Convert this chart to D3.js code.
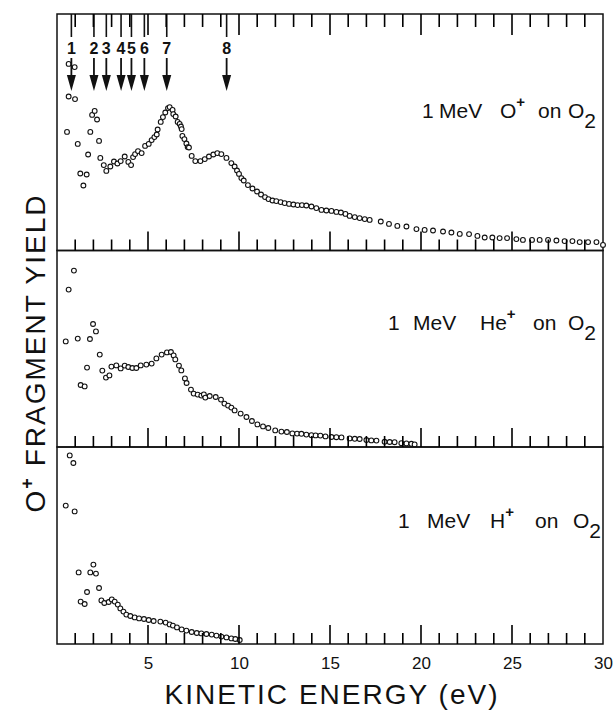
<!DOCTYPE html>
<html>
<head>
<meta charset="utf-8">
<script src="https://cdn.jsdelivr.net/npm/d3@7"></script>
<style>
body{margin:0;background:#fff}
text{font-family:"Liberation Sans",Arial,sans-serif;fill:#111}
</style>
</head>
<body>
<div id="chart"></div>
<script>
// 1 MeV O+ on O2
const oxE=[0.55,0.64,0.64,0.97,0.99,1.14,1.28,1.45,1.63,1.71,1.83,1.93,2.07,2.20,2.31,2.38,2.57,2.71,2.93,3.13,3.32,3.50,3.72,3.92,4.07,4.18,4.29,4.45,4.65,4.84,5.04,5.20,5.35,5.48,5.53,5.70,5.82,5.95,6.10,6.19,6.35,6.39,6.52,6.63,6.74,6.81,6.85,6.89,7.00,7.11,7.18,7.25,7.40,7.60,7.88,8.12,8.35,8.59,8.81,9.03,9.31,9.58,9.76,9.89,10.0,10.13,10.26,10.49,10.74,10.99,11.21,11.43,11.62,11.84,12.05,12.29,12.51,12.75,12.99,13.22,13.46,13.70,13.98,14.25,14.53,14.80,15.08,15.35,15.60,15.85,16.08,16.36,16.63,16.91,17.18,17.79,18.24,18.70,19.20,19.75,20.20,20.66,21.21,21.67,22.13,22.64,23.10,23.50,23.92,24.32,24.73,25.24,25.60,26.10,26.52,26.98,27.44,27.89,28.32,28.72,29.18,29.64,30.0]
const oxY=[59.3,93.3,77,91.7,75.7,53.3,38.5,32.5,38,48,59.3,67.8,69.8,65.5,54.8,46.3,42.7,39.8,42,44.5,43.5,44.7,47,44.3,42.7,46.7,48.2,49.7,48.7,52.3,53.3,55.2,56.7,58,60.5,64.3,66.7,69,71.2,71.7,70.3,68.2,67,64.3,63.3,62,60.7,57.3,55.7,53.5,51.7,51.5,47.3,44.7,44.7,45.7,47,48,48.7,48.2,46.3,43.7,42,40,38.3,36.2,35,32.7,31,29.5,28,26.7,25.7,25,24.7,24.2,23.7,23.3,23,22.7,22.7,22.5,22,21.2,20.3,20,19.8,19.3,19,18.3,17.3,16.7,16.2,15.7,15.3,14.5,13.3,12.3,12,10.7,10.3,10,9.5,9,8.3,8.2,7.3,6.5,6.5,6.2,6.2,5.7,5.3,5.3,5.3,5.3,5,4.7,4.7,4.2,4.2,4.2,2.8]

// 1 MeV He+ on O2
const heE=[0.48,0.64,0.93,1.14,1.30,1.52,1.65,1.81,1.98,2.14,2.35,2.49,2.69,2.88,2.99,3.26,3.50,3.72,3.92,4.14,4.36,4.60,4.91,5.20,5.46,5.75,6.04,6.26,6.41,6.50,6.70,6.83,7.03,7.12,7.36,7.51,7.73,7.93,8.07,8.15,8.39,8.72,9.01,9.20,9.40,9.58,9.76,10.09,10.41,10.71,11.01,11.32,11.61,11.99,12.33,12.63,12.93,13.19,13.43,13.70,13.98,14.21,14.47,14.75,15.08,15.35,15.63,16.08,16.36,16.63,17.0,17.27,17.55,18.0,18.28,18.55,18.92,19.2,19.47,19.65]
const heY=[52.8,78.7,88.2,54.2,31,30.3,39.7,54,61.5,57.8,46.2,38.2,34.7,35.8,40.2,40.8,39.3,40.7,40,39.5,39.5,40.8,41.2,41.7,44.3,46.2,47.3,47.5,45.8,43.8,40.7,38.3,34.3,32,28.7,26.7,26.2,25.7,26.3,24.7,25.5,25,23.7,21.7,20.7,19.7,18.3,16.7,15,13,11.3,10.3,9.5,8.3,7.7,7.5,6.8,6.7,6.6,6.2,5.9,5.8,5.7,5.3,5.0,4.9,4.8,4.3,4.1,4.0,3.5,3.3,3.2,2.6,2.5,2.4,1.9,1.8,1.6,1.3]

// 1 MeV H+ on O2
const hE=[0.48,0.70,0.90,0.97,1.19,1.30,1.52,1.65,1.83,2.00,2.14,2.31,2.44,2.60,2.84,3.01,3.17,3.34,3.48,3.65,3.81,4.03,4.27,4.51,4.78,5.04,5.31,5.68,5.97,6.19,6.37,6.59,6.85,7.11,7.40,7.68,7.93,8.21,8.50,8.76,9.03,9.31,9.58,9.80,10.04]
const hY=[69.2,94.3,90.5,66.3,35.8,21.2,20,26,35.8,39.7,35.2,28,21.8,20.5,21,22.3,21.2,19.7,17.8,16.2,14.7,14,13.3,12.8,12.5,12,11.5,11.2,10.7,9.8,9.2,8.3,7.3,6.7,6,5.5,5.3,5,4.7,4.2,3.7,3.3,2.8,2.5,2]

// peak markers
const arrowE=[0.79,2.03,2.71,3.52,4.09,4.80,6.03,9.32]
const arrowLabels=["1","2","3","4","5","6","7","8"]

const tickValues=d3.range(1,30)
const tickLabels=[5,10,15,20,25,30]

const width=615, height=710
const left=57, right=603

const svg=d3.select("#chart").append("svg")
  .attr("width",width).attr("height",height)

const x=d3.scaleLinear().domain([0,30]).range([left,right])

const panels=[
  {top:14, bottom:250.5, e:oxE, v:oxY,
   words:[["1",422],["MeV",439],["O",500],["on",538],["O",568]], base:118},
  {top:250.5, bottom:447, e:heE, v:heY,
   words:[["1",388],["MeV",413],["He",480],["on",533],["O",568]], base:330},
  {top:447, bottom:644, e:hE, v:hY,
   words:[["1",398],["MeV",427],["H",490],["on",535],["O",573]], base:528}
]

panels.forEach(p=>{
  const y=d3.scaleLinear().domain([0,100]).range([p.bottom,p.bottom-200])

  // frame
  svg.append("rect")
    .attr("x",left).attr("y",p.top)
    .attr("width",right-left).attr("height",p.bottom-p.top)
    .attr("fill","none").attr("stroke","#111").attr("stroke-width",1.5)

  // points
  svg.append("g").selectAll("circle")
    .data(p.e.map((d,j)=>({e:d,v:p.v[j]})))
    .join("circle")
    .attr("cx",d=>x(d.e))
    .attr("cy",d=>y(d.v))
    .attr("r",2.4)
    .attr("fill","#fff")
    .attr("stroke","#111")
    .attr("stroke-width",1.1)

  // panel label
  const t=svg.append("text").attr("y",p.base).style("font-size","21px")
  p.words.forEach((w,k)=>{
    t.append("tspan").attr("x",w[1]).attr("y",p.base).text(w[0])
    if(k==2) t.append("tspan").attr("dy",-11).style("font-size","15px").style("font-weight","bold").text("+")
    if(k==4) t.append("tspan").attr("y",p.base+10).text("2")
  })
})

const top0=panels[0].top

// arrows
const ar=svg.append("g").selectAll("g")
  .data(arrowE.map((d,i)=>({e:d,label:arrowLabels[i]})))
  .join("g")
  .attr("transform",d=>`translate(${x(d.e)},0)`)
ar.append("line").attr("y1",top0).attr("y2",37).attr("stroke","#111").attr("stroke-width",1.6)
ar.append("text").attr("y",53.5).attr("text-anchor","middle")
  .style("font-size","16px").style("font-weight","bold").text(d=>d.label)
ar.append("line").attr("y1",58).attr("y2",78).attr("stroke","#111").attr("stroke-width",1.8)
ar.append("path").attr("d","M-4.5,75L4.5,75L0,91Z").attr("fill","#111")

// tick labels
const gl=svg.append("g")
  .attr("transform",`translate(0,${panels[2].bottom})`)
  .call(d3.axisBottom(x).tickValues(tickLabels).tickSize(0).tickPadding(13))
gl.select(".domain").remove()
gl.selectAll("text").style("font-size","17px").attr("fill","#111")
  .style("font-family","'Liberation Sans',Arial,sans-serif")

// x title
svg.append("text")
  .attr("x",331).attr("y",704)
  .attr("text-anchor","middle")
  .attr("textLength",333).attr("lengthAdjust","spacing")
  .style("font-size","28px")
  .text("KINETIC ENERGY (eV)")

// y title
const yl=svg.append("text")
  .attr("transform","translate(45,353) rotate(-90)")
  .attr("text-anchor","middle")
  .style("font-size","28px")
  .style("letter-spacing","2px")
yl.append("tspan").text("O")
yl.append("tspan").attr("dy",-12).style("font-size","18px").style("font-weight","bold").text("+")
yl.append("tspan").attr("dy",12).text(" FRAGMENT YIELD")

// ticks: upward on each panel bottom, downward on the top edge
const tickRows=[]
panels.forEach(p=>tickValues.forEach(v=>tickRows.push({v:v,y0:p.bottom,len:-(v%5==0?19:11)})))
tickValues.forEach(v=>tickRows.push({v:v,y0:top0,len:(v%5==0?21:13)}))
svg.append("path")
  .attr("d",tickRows.map(d=>`M${x(d.v)},${d.y0}L${x(d.v)},${d.y0+d.len}`).join(""))
  .attr("fill","none")
  .attr("stroke","#000")
  .attr("stroke-width",1.6)
</script>
</body>
</html>
